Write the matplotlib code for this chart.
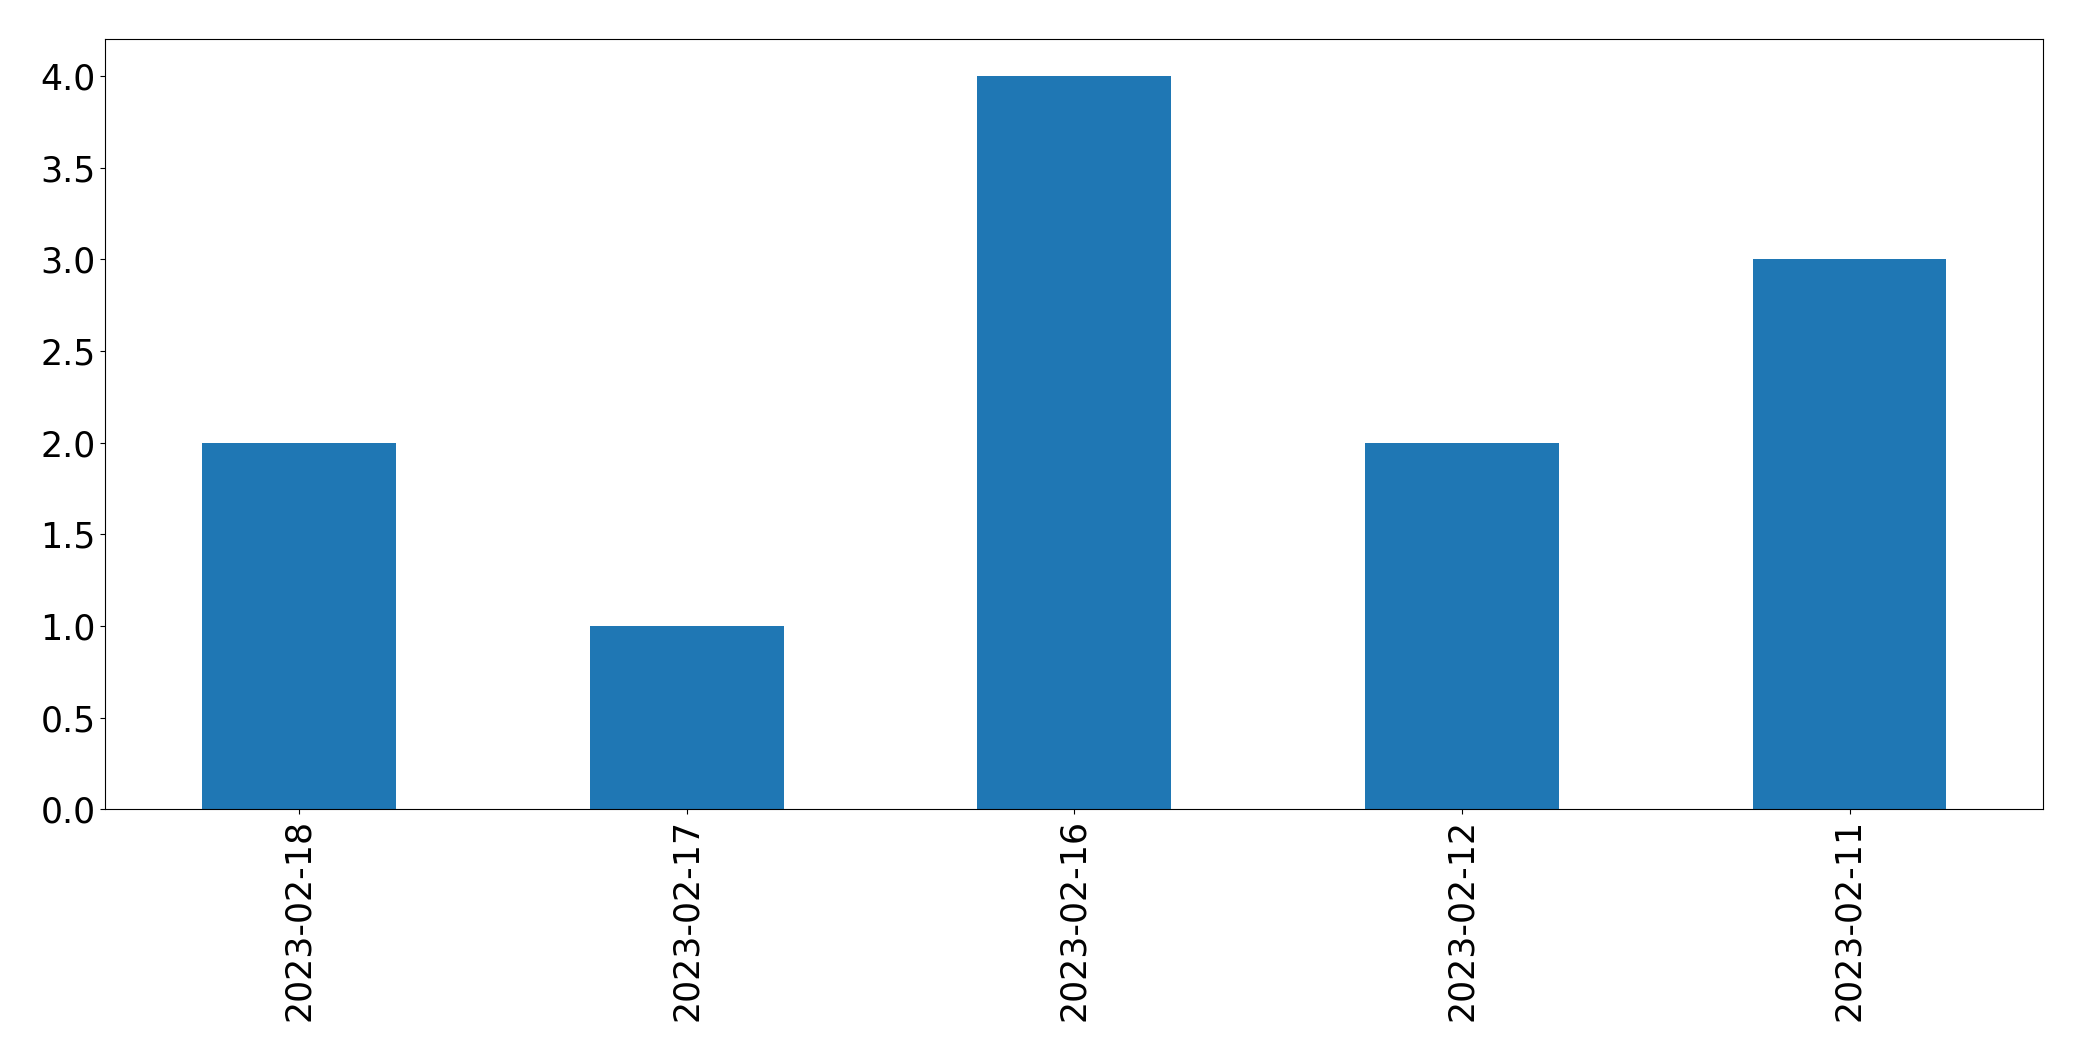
import matplotlib
matplotlib.use("Agg")
import matplotlib.pyplot as plt

dates = ["2023-02-18", "2023-02-17", "2023-02-16", "2023-02-12", "2023-02-11"]
counts = [2, 1, 4, 2, 3]

W, H = 2082, 1061
fig = plt.figure(figsize=(W / 100, H / 100), dpi=100)
left, right, top, bottom = 105.3, 2043.3, 39.3, 809.3
ax = fig.add_axes([left / W, 1 - bottom / H, (right - left) / W, (bottom - top) / H])

x = list(range(len(dates)))
ax.bar(x, counts, width=0.5, color="#1f77b4")
ax.set_xlim(-0.5, len(dates) - 0.5)
ax.set_ylim(0, 4.2)
ax.set_xticks(x)
ax.set_xticklabels(dates, rotation=90)
ax.set_yticks([0, 0.5, 1, 1.5, 2, 2.5, 3, 3.5, 4])
ax.set_yticklabels([f"{v:.1f}" for v in [0, 0.5, 1, 1.5, 2, 2.5, 3, 3.5, 4]])
ax.tick_params(labelsize=25)

fig.savefig("out.png", dpi=100)
